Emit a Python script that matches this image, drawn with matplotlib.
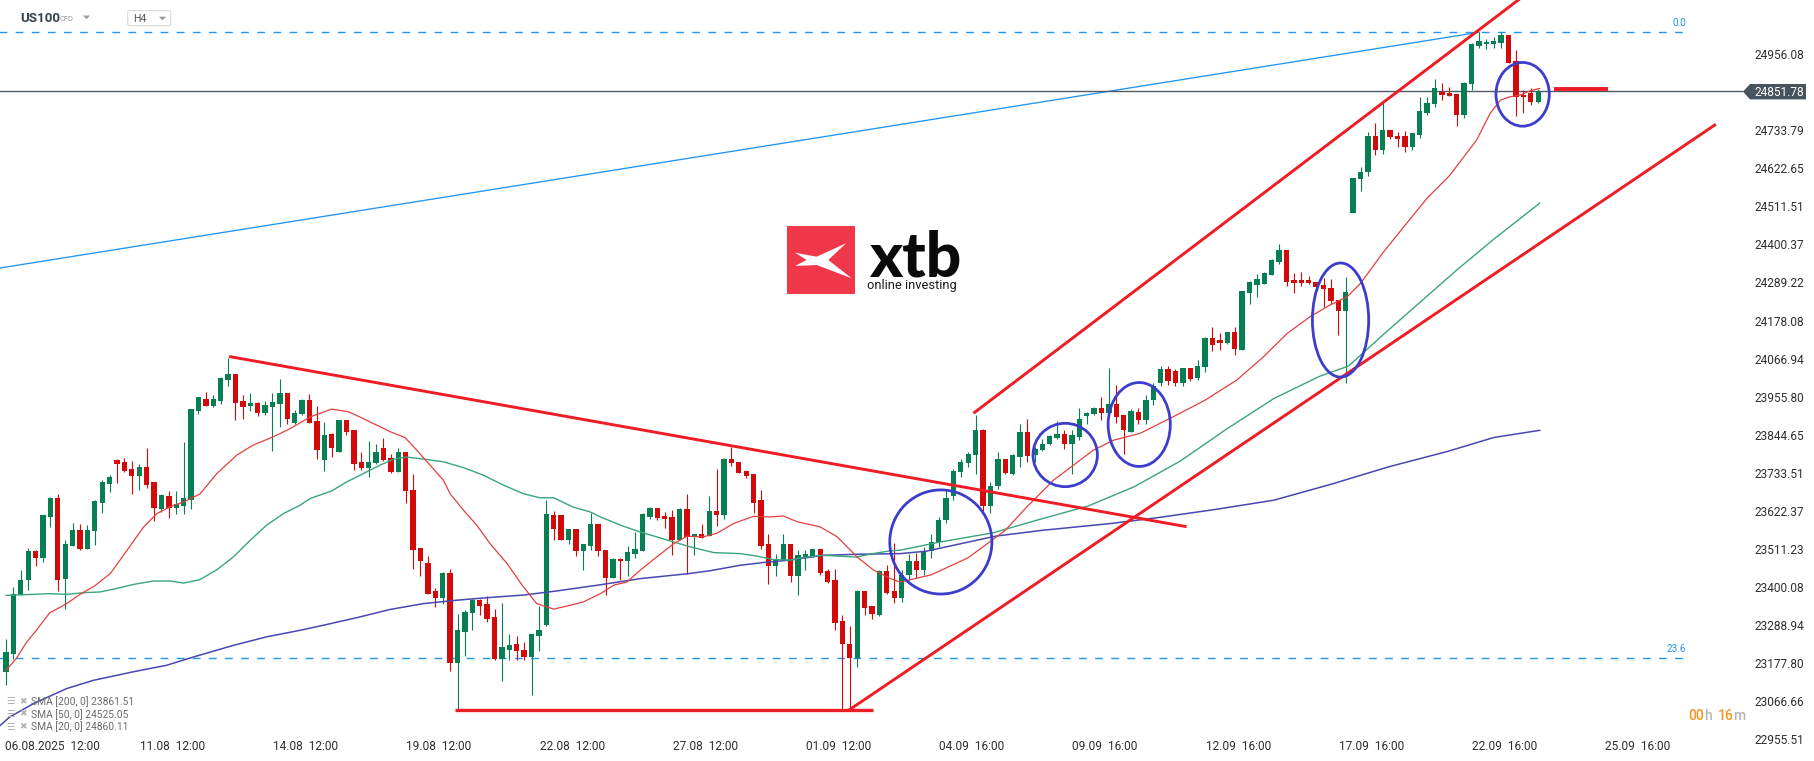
import matplotlib
matplotlib.use("Agg")
import matplotlib.pyplot as plt
import matplotlib.transforms as mtrans
from matplotlib.patches import Ellipse, Polygon, Rectangle, FancyBboxPatch

# ---------------- data (H4 candles, US100) ----------------
opens = [23156.6, 23210.1, 23380.5, 23424.3, 23509.0, 23489.6, 23609.3, 23663.9, 23427.3, 23524.6,
         23572.3, 23514.9, 23568.4, 23650.2, 23704.8, 23774.9, 23770.0, 23748.6, 23729.1, 23754.4,
         23710.6, 23632.7, 23669.7, 23635.6, 23642.4, 23660.0, 23919.0, 23953.1, 23933.6, 23947.2,
         24008.6, 24026.1, 23947.2, 23933.6, 23940.4, 23913.1, 23930.7, 23938.5, 23971.6, 23882.0,
         23908.2, 23950.1, 23888.7, 23774.8, 23850.8, 23799.2, 23891.7, 23862.4, 23769.0, 23751.4,
         23767.0, 23809.9, 23780.7, 23740.7, 23798.2, 23687.2, 23517.8, 23473.9, 23392.1, 23372.7,
         23445.7, 23182.8, 23273.4, 23328.9, 23365.9, 23354.2, 23316.2, 23194.5, 23219.8, 23237.3,
         23219.8, 23200.3, 23260.7, 23292.8, 23616.1, 23614.2, 23541.1, 23575.2, 23510.0, 23524.6,
         23589.8, 23513.9, 23431.1, 23487.6, 23480.8, 23500.2, 23510.0, 23609.3, 23636.5, 23611.2,
         23608.3, 23541.1, 23631.7, 23550.9, 23558.7, 23552.8, 23625.8, 23614.2, 23777.7, 23769.0,
         23743.7, 23733.9, 23658.0, 23529.4, 23466.1, 23484.6, 23529.4, 23436.9, 23492.4, 23494.4,
         23514.8, 23450.6, 23424.3, 23304.5, 23239.3, 23197.4, 23393.1, 23348.3, 23322.0, 23450.6,
         23393.1, 23372.0, 23440.0, 23480.0, 23455.0, 23510.0, 23535.0, 23600.0, 23670.0, 23740.7,
         23767.0, 23789.4, 23862.4, 23640.0, 23700.0, 23776.8, 23735.9, 23784.6, 23857.6, 23789.4,
         23804.0, 23820.6, 23841.0, 23852.7, 23823.5, 23843.0, 23903.3, 23908.2, 23925.7, 23913.1,
         23938.4, 23906.3, 23857.6, 23916.0, 23891.0, 23950.0, 24000.0, 24039.7, 24034.8, 24000.0,
         24042.6, 24013.4, 24047.5, 24130.2, 24125.3, 24117.6, 24147.7, 24096.1, 24263.6, 24286.0,
         24288.9, 24315.2, 24354.2, 24388.2, 24300.6, 24300.6, 24300.6, 24295.7, 24286.0, 24276.3,
         24242.2, 24211.0, 24497.3, 24597.0, 24617.0, 24721.2, 24680.0, 24738.8, 24721.2, 24721.2,
         24690.0, 24725.0, 24789.4, 24814.7, 24849.8, 24845.9, 24843.9, 24782.6, 24873.1, 24985.1,
         24989.0, 24990.0, 24991.9, 25016.3, 24941.3, 24840.0, 24845.9, 24821.5]
highs = [23253.9, 23404.9, 23453.5, 23519.8, 23513.9, 23614.2, 23667.8, 23677.5, 23541.2, 23591.8,
         23587.9, 23585.0, 23658.0, 23716.4, 23731.1, 23776.8, 23781.7, 23771.9, 23763.2, 23809.9,
         23710.6, 23675.6, 23684.3, 23684.3, 23828.4, 23923.8, 23959.9, 23972.5, 23964.7, 24016.3,
         24073.8, 24026.1, 23964.7, 23969.6, 23945.3, 23947.2, 23969.6, 24010.5, 23971.6, 23920.9,
         23953.0, 23967.6, 23932.6, 23886.8, 23854.7, 23891.7, 23891.7, 23862.4, 23799.2, 23830.3,
         23820.6, 23841.0, 23792.3, 23811.8, 23798.2, 23733.9, 23517.8, 23494.4, 23402.9, 23448.6,
         23458.4, 23325.0, 23336.6, 23370.7, 23370.7, 23377.5, 23341.5, 23358.1, 23266.5, 23260.7,
         23244.1, 23266.5, 23349.3, 23658.0, 23625.8, 23614.2, 23575.2, 23575.2, 23529.4, 23621.0,
         23589.8, 23513.9, 23489.5, 23490.5, 23525.5, 23565.5, 23621.0, 23638.5, 23636.5, 23623.9,
         23628.8, 23636.5, 23675.5, 23558.7, 23589.8, 23669.7, 23748.5, 23780.7, 23813.8, 23769.0,
         23743.7, 23733.9, 23687.2, 23558.7, 23502.2, 23560.6, 23529.4, 23511.9, 23511.9, 23514.8,
         23514.8, 23458.4, 23458.4, 23322.0, 23289.9, 23395.1, 23393.1, 23348.3, 23453.5, 23468.1,
         23534.3, 23455.0, 23500.0, 23505.0, 23520.0, 23560.0, 23610.0, 23690.0, 23750.0, 23776.8,
         23799.2, 23906.3, 23866.0, 23712.0, 23799.2, 23776.8, 23792.3, 23881.9, 23893.6, 23812.0,
         23835.2, 23847.8, 23889.7, 23862.4, 23862.4, 23925.7, 23916.0, 23928.7, 23959.8, 24042.6,
         23993.9, 23906.3, 23922.8, 23925.7, 23965.0, 24000.0, 24049.4, 24049.4, 24040.0, 24045.0,
         24042.6, 24066.9, 24135.1, 24164.3, 24144.8, 24147.7, 24164.3, 24268.5, 24297.7, 24318.1,
         24325.0, 24362.9, 24405.8, 24388.2, 24320.1, 24323.0, 24312.3, 24295.7, 24307.4, 24302.6,
         24242.2, 24310.4, 24597.6, 24630.0, 24733.9, 24760.2, 24816.7, 24738.8, 24733.9, 24735.8,
         24731.0, 24836.1, 24834.2, 24887.7, 24875.1, 24863.4, 24843.9, 24879.9, 24993.9, 25024.1,
         25005.6, 25011.4, 25024.1, 25016.3, 24972.4, 24855.6, 24860.5, 24857.5]
lows = [23119.6, 23195.5, 23380.5, 23395.1, 23465.2, 23477.9, 23580.1, 23393.2, 23341.6, 23524.6,
        23512.0, 23514.9, 23526.6, 23621.0, 23682.4, 23708.7, 23739.8, 23675.6, 23687.2, 23695.0,
        23597.7, 23623.9, 23607.4, 23619.1, 23617.1, 23633.7, 23909.2, 23933.6, 23930.7, 23938.5,
        23992.0, 23891.7, 23894.6, 23919.0, 23904.4, 23906.3, 23802.1, 23872.2, 23879.1, 23879.1,
        23906.3, 23883.9, 23777.7, 23743.7, 23784.5, 23799.2, 23847.8, 23745.6, 23745.6, 23726.1,
        23765.1, 23772.9, 23737.8, 23740.7, 23650.2, 23456.4, 23436.0, 23384.4, 23346.4, 23356.1,
        23159.4, 23044.5, 23202.3, 23278.2, 23322.0, 23302.6, 23190.6, 23129.2, 23190.6, 23192.5,
        23190.6, 23088.4, 23217.9, 23289.9, 23541.1, 23541.1, 23529.4, 23494.4, 23453.5, 23511.9,
        23494.4, 23382.4, 23431.1, 23426.2, 23436.9, 23490.5, 23510.0, 23604.4, 23601.5, 23577.1,
        23497.3, 23541.1, 23443.8, 23497.3, 23548.9, 23552.8, 23583.0, 23603.4, 23757.3, 23737.8,
        23723.2, 23621.0, 23514.8, 23412.6, 23436.0, 23484.6, 23419.4, 23380.5, 23453.5, 23492.4,
        23438.9, 23416.5, 23278.2, 23044.5, 23044.5, 23171.1, 23324.0, 23312.3, 23319.1, 23385.3,
        23358.1, 23360.0, 23425.0, 23430.0, 23440.0, 23490.0, 23520.0, 23590.0, 23660.0, 23726.1,
        23755.3, 23735.9, 23625.0, 23620.0, 23690.0, 23735.9, 23731.0, 23755.3, 23769.9, 23770.0,
        23802.1, 23818.6, 23838.1, 23808.9, 23735.9, 23833.2, 23881.9, 23906.3, 23891.7, 23911.1,
        23883.9, 23794.3, 23857.6, 23880.0, 23880.0, 23935.0, 23990.0, 23995.0, 23990.0, 23990.0,
        24006.6, 24008.5, 24032.8, 24094.2, 24096.1, 24113.7, 24081.5, 24096.1, 24230.5, 24251.9,
        24288.9, 24315.2, 24346.4, 24284.1, 24263.6, 24284.1, 24288.9, 24273.4, 24220.8, 24230.5,
        24140.0, 24000.0, 24497.3, 24560.0, 24605.0, 24665.0, 24670.0, 24711.5, 24690.0, 24675.0,
        24680.0, 24715.0, 24782.6, 24806.9, 24826.4, 24838.1, 24750.4, 24772.8, 24855.6, 24979.3,
        24974.4, 24977.3, 24979.3, 24933.5, 24779.7, 24787.4, 24811.8, 24818.6]
closes = [23214.0, 23385.4, 23424.3, 23509.0, 23489.6, 23614.2, 23663.9, 23424.3, 23531.4, 23572.3,
          23514.9, 23572.3, 23655.1, 23710.6, 23726.2, 23763.2, 23743.7, 23729.1, 23754.4, 23701.8,
          23635.6, 23671.7, 23635.6, 23646.3, 23663.9, 23923.8, 23957.9, 23933.6, 23953.1, 24013.4,
          24026.1, 23942.3, 23930.7, 23940.4, 23913.1, 23935.5, 23943.3, 23971.6, 23894.6, 23913.1,
          23950.1, 23883.9, 23804.0, 23847.8, 23810.8, 23891.7, 23857.6, 23763.1, 23751.4, 23769.0,
          23798.2, 23774.8, 23740.7, 23798.2, 23685.2, 23511.9, 23480.8, 23384.4, 23372.7, 23445.7,
          23182.8, 23278.2, 23330.8, 23365.9, 23348.3, 23311.3, 23194.5, 23228.6, 23234.4, 23216.9,
          23200.3, 23266.5, 23278.2, 23617.1, 23574.2, 23541.1, 23575.2, 23510.0, 23529.4, 23589.8,
          23510.0, 23431.1, 23487.6, 23480.8, 23506.1, 23514.8, 23619.0, 23636.5, 23607.3, 23603.4,
          23541.1, 23631.7, 23550.9, 23558.7, 23548.9, 23625.8, 23614.2, 23777.7, 23767.0, 23737.8,
          23728.1, 23650.2, 23524.6, 23466.1, 23484.6, 23529.4, 23436.9, 23497.3, 23500.2, 23514.8,
          23445.7, 23418.4, 23299.6, 23239.3, 23197.4, 23393.1, 23343.5, 23326.9, 23450.6, 23387.3,
          23372.7, 23440.0, 23480.0, 23455.0, 23510.0, 23535.0, 23600.0, 23665.0, 23743.7, 23769.9,
          23794.3, 23862.4, 23640.0, 23700.0, 23776.8, 23737.8, 23789.4, 23857.6, 23786.5, 23808.9,
          23823.5, 23844.9, 23852.7, 23820.6, 23847.8, 23896.5, 23911.1, 23925.7, 23913.1, 23938.4,
          23901.4, 23862.4, 23918.9, 23891.7, 23950.0, 23990.0, 24039.7, 24005.0, 24000.0, 24042.6,
          24010.5, 24049.4, 24130.2, 24110.7, 24117.6, 24147.7, 24098.1, 24268.5, 24293.8, 24303.5,
          24322.0, 24359.0, 24388.2, 24295.7, 24292.8, 24292.8, 24290.9, 24281.1, 24273.4, 24240.2,
          24211.0, 24264.6, 24597.6, 24617.0, 24721.0, 24680.0, 24738.8, 24717.3, 24713.4, 24690.0,
          24729.0, 24794.3, 24816.7, 24860.5, 24841.0, 24839.1, 24782.6, 24875.1, 24990.0, 24997.8,
          24994.8, 24997.8, 25016.3, 24935.4, 24834.2, 24834.2, 24821.5, 24851.78]

# moving averages (bar index, value)
sma20_x = [0, 1.4, 2.8, 4.1, 5.9, 8.2, 10, 12, 14.1, 16.1, 18.6, 20.4, 22.2, 24, 26.2, 28.5, 31.2, 33.4,
           36.1, 38.4, 41.1, 44, 46.3, 47.8, 50.1, 51.9, 53.9, 55.5, 57.3, 59.1, 60, 61.8, 63.6, 65.4,
           67.7, 69.9, 71.7, 74, 76.2, 78, 80.3, 82.1, 83.9, 85.7, 87.9, 90.2, 92, 94.2, 96, 98.3, 101,
           103.2, 105, 106.9, 110, 112.3, 115, 117.2, 119.5, 120.8, 125, 130, 135, 138, 141.5, 146.9,
           149.6, 153.2, 158, 162, 166.3, 169.9, 173.1, 176.2, 178.9, 181.2, 183, 186, 189, 192, 195,
           198.7, 200.5, 201.9, 203.2, 204.6, 206, 207.2]
sma20_y = [23161, 23196, 23244, 23278, 23329, 23356, 23383, 23408, 23444, 23504, 23580, 23619, 23639,
           23653, 23676, 23736, 23790, 23819, 23843, 23867, 23901, 23924, 23916, 23901, 23877, 23858,
           23841, 23804, 23760, 23716, 23677, 23629, 23585, 23531, 23473, 23405, 23356, 23340, 23351,
           23361, 23385, 23410, 23419, 23454, 23492, 23531, 23553, 23551, 23561, 23590, 23611, 23609,
           23612, 23595, 23580, 23551, 23492, 23454, 23429, 23419, 23440, 23490, 23570, 23640, 23716,
           23804, 23833, 23853, 23905, 23950, 24009, 24077, 24145, 24194, 24228, 24252, 24291, 24380,
           24460, 24540, 24605, 24710, 24787, 24826, 24836, 24841, 24854, 24860]
sma50_x = [0, 5.9, 8.2, 10.5, 12.7, 14.9, 17.2, 19.9, 22.2, 24, 26.2, 28.5, 30.7, 33, 35.2, 37.5, 39.7,
           41.1, 44, 46, 48.3, 50.5, 52.3, 54.1, 56.4, 59.1, 61.8, 64.5, 67.2, 69.9, 72.1, 74, 76.6,
           78.9, 80.3, 83.4, 85.7, 87.9, 90.2, 92.4, 95.6, 99.2, 101.4, 103.6, 105.9, 108.1, 110.4,
           113.1, 114.9, 117.1, 119.4, 120.8, 126, 133.4, 140, 146.2, 152.5, 158.7, 165, 171.3, 177.5,
           181.4, 186, 191, 196, 201, 207.2]
sma50_y = [23380, 23385, 23383, 23388, 23390, 23400, 23412, 23422, 23422, 23416, 23426, 23455, 23492,
           23541, 23585, 23619, 23643, 23663, 23685, 23711, 23736, 23760, 23777, 23784, 23778, 23770,
           23753, 23731, 23702, 23677, 23665, 23665, 23638, 23624, 23609, 23582, 23565, 23551, 23536,
           23522, 23505, 23502, 23495, 23485, 23483, 23492, 23497, 23494, 23492, 23502, 23510, 23512,
           23535, 23563, 23604, 23641, 23698, 23773, 23867, 23955, 24020, 24050, 24140, 24235, 24330,
           24420, 24525]
sma200_x = [-0.8, 0.5, 3.7, 8.2, 11.8, 17.2, 21.7, 25.3, 30.7, 35.2, 39.7, 42.9, 47.4, 51.9, 56.4, 60.9,
            65.4, 69.9, 74.4, 80.3, 85.7, 92.4, 95.1, 99.2, 102.3, 105.9, 110.4, 114.9, 120.8, 124.3,
            133.7, 140, 149.3, 155.6, 163.4, 171.3, 179.1, 186.9, 194.7, 201, 207.2]
sma200_y = [23000, 23025, 23064, 23108, 23132, 23157, 23176, 23200, 23234, 23259, 23278, 23293, 23315,
            23339, 23356, 23366, 23374, 23381, 23393, 23411, 23429, 23444, 23452, 23468, 23476, 23483,
            23497, 23500, 23502, 23509, 23553, 23570, 23590, 23607, 23631, 23658, 23705, 23756, 23800,
            23841, 23862]

sma_legend = ["SMA [200, 0] 23861.51", "SMA [50, 0] 24525.05", "SMA [20, 0] 24860.11"]
price_ticks = [24956.08, 24733.79, 24622.65, 24511.51, 24400.37, 24289.22, 24178.08, 24066.94,
               23955.80, 23844.65, 23733.51, 23622.37, 23511.23, 23400.08, 23288.94, 23177.80,
               23066.66, 22955.51]
last_price = 24851.78
date_labels = ["06.08.2025  12:00", "11.08  12:00", "14.08  12:00", "19.08  12:00", "22.08  12:00",
               "27.08  12:00", "01.09  12:00", "04.09  16:00", "09.09  16:00", "12.09  16:00",
               "17.09  16:00", "22.09  16:00", "25.09  16:00"]
fib0, fib236 = 25024.1, 23197.4

# drawn annotations: (bar index, price)
desc_line = ([30.15, 159.5], [24077.5, 23580.6])
support_line = ([60.7, 117.1], [23045.4, 23045.4])
lower_channel = ([113.9, 231.0], [23045.4, 24755.5])
upper_channel = ([130.7, 206.0], [23911.7, 25146.0])
short_line = ([209.2, 216.4], [24858.6, 24858.6])
fib_trend = ([-2.0, 199.0], [24331.8, 25024.1])
ellipses = [(126.3, 23536, 13.8, 304), (143.1, 23790, 8.7, 185), (153.1, 23879, 8.4, 245),
            (180.3, 24184, 7.6, 333), (204.9, 24843, 7.2, 186)]

# ---------------- figure ----------------
W, H = 1815, 761
fig = plt.figure(figsize=(W / 100, H / 100), dpi=100)
fig.patch.set_facecolor("white")
ax = fig.add_axes([0, 0, 1, 1])
ax.set_xlim(-0.81, 244.4)
ax.set_ylim(22896.5, 25118.4)
ax.axis("off")

UP, DN = "#087f52", "#d30a0a"
n = len(opens)
xs = list(range(n))
cols = [UP if c >= o else DN for o, c in zip(opens, closes)]
ax.vlines(xs, lows, highs, colors=cols, lw=0.8, zorder=3)
bottoms = [min(o, c) for o, c in zip(opens, closes)]
heights = [max(abs(c - o), 3.0) for o, c in zip(opens, closes)]
ax.bar(xs, heights, bottom=bottoms, width=0.72, color=cols, lw=0, zorder=4)

ax.plot(sma200_x, sma200_y, color="#4848b0", lw=1.1, zorder=5)
ax.plot(sma50_x, sma50_y, color="#3aa57a", lw=1.0, zorder=5)
ax.plot(sma20_x, sma20_y, color="#e2403f", lw=0.9, zorder=5)

# fib
dash = (0, (5.6, 6.0))
ax.hlines([fib0, fib236], -1, 227.5, colors="#2196f3", lw=1.0, linestyles=[dash], zorder=2)
ax.plot(*fib_trend, color="#2196f3", lw=0.95, zorder=2)
# current price line
ax.hlines(last_price, -1, 234.7, colors="#4f5b66", lw=1.0, zorder=2)

RED = "#ee1c25"
ax.plot(*desc_line, color=RED, lw=2.1, solid_capstyle="butt", zorder=7)
ax.plot(*support_line, color=RED, lw=2.4, solid_capstyle="butt", zorder=7)
ax.plot(*lower_channel, color=RED, lw=2.1, solid_capstyle="butt", zorder=7)
ax.plot(*upper_channel, color=RED, lw=2.1, solid_capstyle="butt", zorder=7)
ax.plot(*short_line, color=RED, lw=2.8, solid_capstyle="butt", zorder=7)

for cx, cy, w, h in ellipses:
    ax.add_patch(Ellipse((cx, cy), w, h, fill=False, ec="#3d3dcc", lw=2.0, zorder=8))

FONT = "Roboto"
tr_y = mtrans.blended_transform_factory(ax.transAxes, ax.transData)
for p in price_ticks:
    ax.text(1755 / W, p, f"{p:.2f}", transform=tr_y, fontsize=8.6, family=FONT,
            color="#2f2f2f", ha="left", va="center")

tr_x = mtrans.blended_transform_factory(ax.transData, ax.transAxes)
ylab = 1 - 746.6 / H
for k, lab in enumerate(date_labels):
    pos = 4.5 + 18 * k
    if k == 0:
        ax.text(5 / W, ylab, lab, transform=ax.transAxes, fontsize=8.6, family=FONT,
                color="#2f2f2f", ha="left", va="center")
    else:
        ax.text(pos, ylab, lab, transform=tr_x, fontsize=8.6, family=FONT,
                color="#2f2f2f", ha="center", va="center")

# ---------------- overlay in pixel units ----------------
ov = fig.add_axes([0, 0, 1, 1], zorder=10)
ov.set_xlim(0, W)
ov.set_ylim(H, 0)
ov.axis("off")
ov.patch.set_alpha(0)

# header
ov.text(20, 18.8, "US100", fontsize=9.6, fontweight="bold", family=FONT, color="#37434c",
        ha="left", va="center")
ov.text(60, 19.6, "CFD", fontsize=5.4, family=FONT, color="#9a9a9a", ha="left", va="center")
ov.add_patch(Polygon([(83, 15.5), (90, 15.5), (86.5, 19.2)], closed=True, fc="#9a9a9a", ec="none"))
ov.add_patch(FancyBboxPatch((127.7, 10.7), 43, 15, boxstyle="round,pad=0,rounding_size=2",
                            fc="white", ec="#d9d9d9", lw=0.8))
ov.text(132.7, 19.0, "H4", fontsize=7.6, family=FONT, color="#555555", ha="left", va="center")
ov.add_patch(Polygon([(159, 16.7), (166, 16.7), (162.5, 20.3)], closed=True, fc="#9a9a9a", ec="none"))

# logo
ov.add_patch(Rectangle((786.7, 226), 68.3, 68.3, fc="#f0384a", ec="none", zorder=11))
ov.add_patch(Polygon([(795, 252.7), (816.7, 256.7), (846, 243.3), (828.3, 260), (851.7, 278.3),
                      (816.7, 265), (795, 266), (806.7, 260)], closed=True, fc="white", ec="none",
                     zorder=12))
ov.text(915.5, 276.7, "xtb", fontsize=45, fontweight="black", family="Lato", color="#0a0a0a",
        ha="center", va="baseline", zorder=11)
ov.text(866.7, 289.0, "online investing", fontsize=9.3, family=FONT, color="#1a1a1a",
        ha="left", va="baseline", zorder=11)

# fib labels
ov.text(1679, 22.5, "0.0", fontsize=7.2, family=FONT, color="#2196f3", ha="center", va="center")
ov.text(1676.5, 648.5, "23.6", fontsize=7.2, family=FONT, color="#2196f3", ha="center", va="center")

# price tag
ov.add_patch(Polygon([(1743, 91.7), (1750, 84), (1806, 84), (1806, 99.4), (1750, 99.4)],
                     closed=True, fc="#46545f", ec="none"))
ov.text(1754.5, 92.0, f"{last_price:.2f}", fontsize=8.6, family=FONT, color="white",
        ha="left", va="center")

# countdown
ORANGE, GREY = "#f7941d", "#b5b5b5"
for txt, x0, colr in (("00", 1688, ORANGE), ("h", 1704, GREY), ("16", 1717.5, ORANGE), ("m", 1733, GREY)):
    ov.text(x0, 716.5, txt, fontsize=10, family=FONT, color=colr, ha="left", va="center",
            fontweight="medium")

# SMA legend
for k, lab in enumerate(sma_legend):
    yy = 701.4 + 12.8 * k
    ov.text(6, yy, "\u2630", fontsize=7, family="DejaVu Sans", color="#b3b3b3", ha="left", va="center")
    ov.text(19, yy, "\u2716", fontsize=6.5, family="DejaVu Sans", color="#b3b3b3", ha="left", va="center")
    ov.text(31.5, yy, lab, fontsize=7.4, family=FONT, color="#6b6b6b", ha="left", va="center")

fig.savefig("out.png", dpi=100, facecolor="white")
